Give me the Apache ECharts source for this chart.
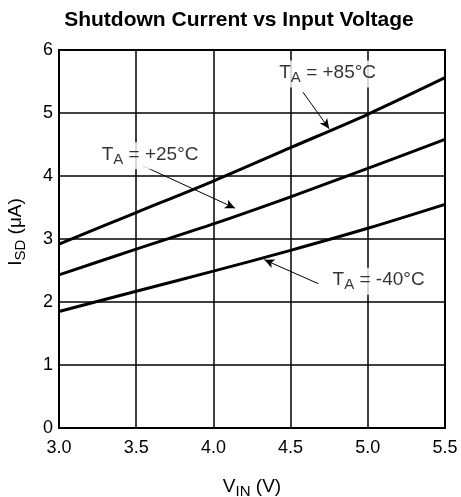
<!DOCTYPE html>
<html><head><meta charset="utf-8">
<script src="https://cdn.jsdelivr.net/npm/echarts@6/dist/echarts.min.js"></script>
<style>html,body{margin:0;padding:0;background:#fff}#c{width:461px;height:497px}</style>
</head><body><div id="c"></div>
<script>
const vin = [3.0, 3.5, 4.0, 4.5, 5.0, 5.5];
const i85 = [2.92, 3.42, 3.92, 4.45, 4.98, 5.56];
const i25 = [2.43, 2.84, 3.24, 3.67, 4.12, 4.58];
const iM40 = [1.85, 2.17, 2.49, 2.82, 3.17, 3.55];
const xTicks = ['3.0','3.5','4.0','4.5','5.0','5.5'];
const labels = [
  {name:'85', text:'+85°C', at:[4.74, 5.62], arrow:[[4.58,5.33],[4.75,4.75]]},
  {name:'25', text:'+25°C', at:[3.59, 4.32], arrow:[[3.544,4.16],[4.14,3.49]]},
  {name:'-40', text:'-40°C', at:[5.07, 2.33], arrow:[[4.68,2.29],[4.33,2.67]]}
];
const FONT = '"Liberation Sans", Arial, sans-serif';
const chart = echarts.init(document.getElementById('c'), null, {renderer:'canvas'});
const sub = {fontSize: 15, fontFamily: FONT, color:'#000', padding:[10,0,0,0]};
const curve = (d) => ({type:'line', data: vin.map((x,i)=>[x,d[i]]), smooth:0.3, symbol:'none',
  lineStyle:{color:'#000', width:3}, z:3, silent:true});
const series = [curve(i85), curve(i25), curve(iM40)];
labels.forEach(l => {
  series.push({type:'scatter', data:[l.at], symbolSize:0, z:5,
    label:{show:true, position:'inside', formatter:'T{s|A} = ' + l.text,
      fontSize:19, fontFamily:FONT, color:'#000', backgroundColor:'#fff', padding:[0,2,2,2],
      rich:{s:sub}},
    markLine:{silent:true, symbol:['none','arrow'], symbolSize:[7,10], animation:false,
      lineStyle:{color:'#000', width:1, type:'solid'}, label:{show:false},
      data:[[{coord:l.arrow[0]},{coord:l.arrow[1]}]]}
  });
});
chart.setOption({
  animation:false,
  backgroundColor:'#fff',
  title:{text:'Shutdown Current vs Input Voltage', left:234, top:5, textAlign:'center',
    textStyle:{fontFamily:FONT, fontWeight:'bold', fontSize:21, color:'#000'}},
  grid:{left:59, right:16, top:50, bottom:69, containLabel:false, outerBoundsMode:'none',
    show:true, borderColor:'#000', borderWidth:2},
  xAxis:{type:'value', min:3.0, max:5.5, interval:0.5,
    name:'V{s|IN} (V)', nameLocation:'middle', nameGap:46,
    nameTextStyle:{fontFamily:FONT, fontSize:19, color:'#000', rich:{s:sub}},
    axisLine:{show:true, lineStyle:{color:'#000', width:2}},
    axisTick:{show:false},
    axisLabel:{fontFamily:FONT, fontSize:18, color:'#000', margin:11,
      formatter:(v)=>v.toFixed(1)},
    splitLine:{show:true, lineStyle:{color:'#000', width:1.5}}},
  yAxis:{type:'value', min:0, max:6, interval:1,
    name:'I{s|SD} (μA)', nameLocation:'middle', nameGap:31, nameRotate:90,
    nameTextStyle:{fontFamily:FONT, fontSize:19, color:'#000', rich:{s:sub}, padding:[0,0,0,14]},
    axisLine:{show:true, lineStyle:{color:'#000', width:2}},
    axisTick:{show:false},
    axisLabel:{fontFamily:FONT, fontSize:18, color:'#000', margin:6},
    splitLine:{show:true, lineStyle:{color:'#000', width:1.5}}},
  series: series
});
</script></body></html>
